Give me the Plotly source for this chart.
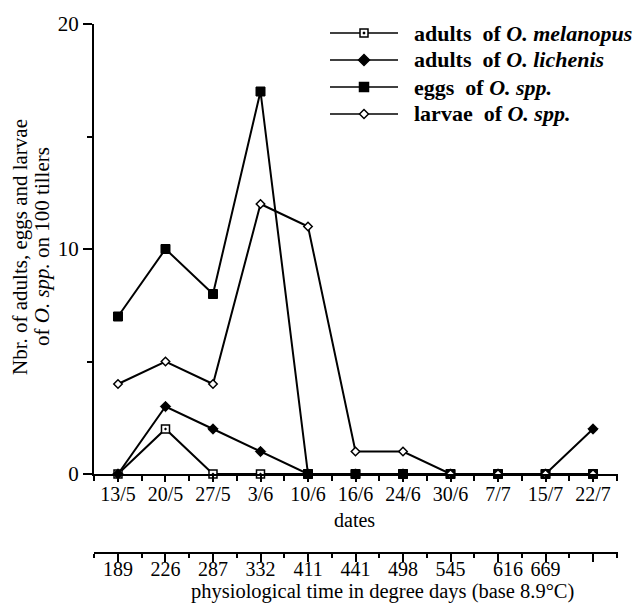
import plotly.graph_objects as go

# ---- data ----
dates = ["13/5", "20/5", "27/5", "3/6", "10/6", "16/6", "24/6", "30/6", "7/7", "15/7", "22/7"]
degree_days = ["189", "226", "287", "332", "411", "441", "498", "545", "\u00a0\u00a0\u00a0\u00a0616", "669", ""]
melanopus = [0, 2, 0, 0, 0, 0, 0, 0, 0, 0, 0]
lichenis = [0, 3, 2, 1, 0, 0, 0, 0, 0, 0, 2]
eggs = [7, 10, 8, 17, 0, 0, 0, 0, 0, 0, 0]
larvae = [4, 5, 4, 12, 11, 1, 1, 0, 0, 0, 0]

FONT = "Liberation Serif, Times New Roman, serif"
W, H = 636, 604
L, R, T, B = 94, 18, 24, 51
PW, PH = W - L - R, H - T - B
X_AXIS_PX = 474  # pixel row of y=0

def px_x(p):
    return (p - L) / PW

def px_y(p):
    return (H - B - p) / PH

idx = list(range(len(dates)))

fig = go.Figure()

series = [
    ("adults of O. melanopus", melanopus, dict(symbol="square-dot", size=8, color="white", line=dict(color="black", width=1.5))),
    ("eggs of O. spp.", eggs, dict(symbol="square", size=9, color="black", line=dict(color="black", width=1))),
    ("adults of O. lichenis", lichenis, dict(symbol="diamond", size=8, color="black", line=dict(color="black", width=1))),
    ("larvae of O. spp.", larvae, dict(symbol="diamond", size=6.5, color="white", line=dict(color="black", width=1.5))),
]
for name, vals, mk in series:
    fig.add_trace(go.Scatter(
        x=idx, y=vals, mode="lines+markers", name=name,
        line=dict(color="black", width=2), marker=mk,
        cliponaxis=False, showlegend=False, xaxis="x", yaxis="y",
    ))

# invisible trace to activate the second (degree-days) axis
fig.add_trace(go.Scatter(x=[idx[0]], y=[None], xaxis="x2", yaxis="y", showlegend=False,
                         mode="markers", marker=dict(opacity=0)))

y_dom0 = px_y(X_AXIS_PX)

fig.update_layout(
    width=W, height=H,
    margin=dict(l=L, r=R, t=T, b=B, pad=0, autoexpand=False),
    paper_bgcolor="white", plot_bgcolor="white",
    font=dict(family=FONT, color="black", size=20),
    showlegend=False,
    xaxis=dict(
        range=[-0.505, 10.526], anchor="y", automargin=False,
        tickmode="array", tickvals=idx, ticktext=dates,
        ticks="outside", ticklen=6, tickwidth=1.5, tickcolor="black",
        ticklabelstandoff=-5,
        minor=dict(tickmode="array", tickvals=[i + 0.5 for i in range(-1, len(dates))],
                   ticks="outside", ticklen=5, tickwidth=1.5, tickcolor="black"),
        showline=True, linecolor="black", linewidth=2,
        showgrid=False, zeroline=False,
        tickfont=dict(size=20, family=FONT),
    ),
    xaxis2=dict(
        range=[-0.505, 10.526], overlaying="x", anchor="free", position=0, side="bottom",
        automargin=False,
        tickmode="array", tickvals=idx, ticktext=degree_days,
        ticks="outside", ticklen=8, tickwidth=1.5, tickcolor="black",
        ticklabelstandoff=-10,
        minor=dict(tickmode="array", tickvals=[i + 0.5 for i in range(-1, len(dates))],
                   ticks="outside", ticklen=4, tickwidth=1.5, tickcolor="black"),
        showline=True, linecolor="black", linewidth=2,
        showgrid=False, zeroline=False,
        tickfont=dict(size=20, family=FONT),
    ),
    yaxis=dict(
        range=[0, 20], domain=[y_dom0, 1], automargin=False,
        tickmode="array", tickvals=[0, 10, 20],
        ticks="outside", ticklen=9, tickwidth=1.5, tickcolor="black",
        minor=dict(tickmode="array", tickvals=[5, 15], ticks="outside", ticklen=5,
                   tickwidth=1.5, tickcolor="black"),
        showline=True, linecolor="black", linewidth=2,
        showgrid=False, zeroline=False,
        tickfont=dict(size=21, family=FONT),
    ),
)

annotations = [
    dict(text="dates", x=px_x(354), y=px_y(520), xref="paper", yref="paper",
         showarrow=False, xanchor="center", yanchor="middle", font=dict(size=20, family=FONT)),
    dict(text="physiological time in degree days (base 8.9°C)", x=px_x(382), y=px_y(591),
         xref="paper", yref="paper", showarrow=False, xanchor="center", yanchor="middle",
         font=dict(size=20.5, family=FONT)),
    dict(text="Nbr. of adults, eggs and larvae",
         x=px_x(20), y=px_y(247), xref="paper", yref="paper", textangle=-90,
         showarrow=False, xanchor="center", yanchor="middle",
         font=dict(size=21, family=FONT)),
    dict(text="of <i>O. spp.</i> on 100 tillers",
         x=px_x(42), y=px_y(247), xref="paper", yref="paper", textangle=-90,
         showarrow=False, xanchor="center", yanchor="middle",
         font=dict(size=21, family=FONT)),
]

# manual legend
legend_rows = [
    ("adults\u00a0 of <i>O. melanopus</i>", "square-open", 33),
    ("adults\u00a0 of <i>O. lichenis</i>", "diamond", 60),
    ("eggs\u00a0 of <i>O. spp.</i>", "square", 87),
    ("larvae\u00a0 of <i>O. spp.</i>", "diamond-open", 114),
]
shapes = []
for text, sym, py in legend_rows:
    shapes.append(dict(type="line", xref="paper", yref="paper",
                       x0=px_x(330), x1=px_x(398), y0=px_y(py), y1=px_y(py),
                       line=dict(color="black", width=1.5)))
    cx, cy = 364, py
    if sym.startswith("square"):
        s = 4.5 if sym == "square" else 4
        fill = "black" if sym == "square" else "white"
        shapes.append(dict(type="rect", xref="paper", yref="paper",
                           x0=px_x(cx - s), x1=px_x(cx + s), y0=px_y(cy + s), y1=px_y(cy - s),
                           fillcolor=fill, line=dict(color="black", width=1.5)))
        if sym == "square-open":
            shapes.append(dict(type="rect", xref="paper", yref="paper",
                               x0=px_x(cx - 1), x1=px_x(cx + 1), y0=px_y(cy + 1), y1=px_y(cy - 1),
                               fillcolor="black", line=dict(color="black", width=0.5)))
    else:
        s = 5.5 if sym == "diamond" else 4.5
        fill = "black" if sym == "diamond" else "white"
        path = "M {} {} L {} {} L {} {} L {} {} Z".format(
            px_x(cx - s), px_y(cy), px_x(cx), px_y(cy - s),
            px_x(cx + s), px_y(cy), px_x(cx), px_y(cy + s))
        shapes.append(dict(type="path", xref="paper", yref="paper", path=path,
                           fillcolor=fill, line=dict(color="black", width=1.5)))
    annotations.append(dict(text="<b>" + text + "</b>", x=px_x(412), y=px_y(py),
                            xref="paper", yref="paper", showarrow=False,
                            xanchor="left", yanchor="middle",
                            font=dict(size=22, family=FONT)))

fig.update_layout(annotations=annotations, shapes=shapes)

fig.write_html(
    "out.html",
    config={"displayModeBar": False},
    post_script="document.body.style.margin='0px';document.body.style.overflow='hidden';",
)
